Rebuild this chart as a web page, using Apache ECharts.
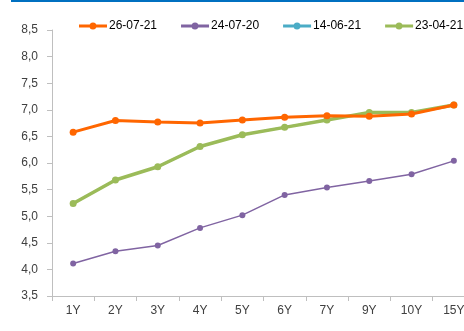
<!DOCTYPE html>
<html>
<head>
<meta charset="utf-8">
<script src="https://cdn.jsdelivr.net/npm/echarts@6/dist/echarts.min.js"></script>
<style>
  html, body { margin: 0; padding: 0; background: #ffffff; }
  #chart { width: 464px; height: 331px; }
</style>
</head>
<body>
<div id="chart"></div>
<script>
// Yield curve by maturity on four dates
const maturities = ['1Y', '2Y', '3Y', '4Y', '5Y', '6Y', '7Y', '9Y', '10Y', '15Y'];
const seriesNames = ['26-07-21', '24-07-20', '14-06-21', '23-04-21'];
const curve260721 = [6.58, 6.80, 6.77, 6.75, 6.81, 6.86, 6.89, 6.88, 6.92, 7.09];
const curve240720 = [4.11, 4.34, 4.45, 4.78, 5.02, 5.40, 5.54, 5.66, 5.79, 6.04];
const curve140621 = [5.24, 5.68, 5.93, 6.31, 6.53, 6.67, 6.81, 6.95, 6.95, 7.09];
const curve230421 = [5.24, 5.68, 5.93, 6.31, 6.53, 6.67, 6.81, 6.95, 6.95, 7.09];
const yMin = 3.5, yMax = 8.5, yStep = 0.5;

const colors = ['#FF6600', '#8064A2', '#4BACC6', '#9BBB59'];
const widths = [3, 1.5, 2, 3.5];
const dataSets = [curve260721, curve240720, curve140621, curve230421];
const drawOrder = [2, 3, 1, 0];

const chart = echarts.init(document.getElementById('chart'), null, { renderer: 'canvas' });

const series = drawOrder.map((i, k) => ({
  name: seriesNames[i],
  type: 'line',
  data: dataSets[i],
  symbol: 'circle',
  symbolSize: i === 1 ? 6 : (i === 2 ? 5 : 7),
  showSymbol: true,
  lineStyle: { color: colors[i], width: widths[i] },
  itemStyle: { color: colors[i] },
  z: 2 + k,
  animation: false
}));

chart.setOption({
  backgroundColor: '#ffffff',
  animation: false,
  textStyle: { fontFamily: 'Liberation Sans, Arial, sans-serif' },
  graphic: [{
    type: 'rect',
    shape: { x: 11, y: 0, width: 453, height: 2 },
    style: { fill: '#0070C0' },
    silent: true
  }],
  legend: {
    data: seriesNames.map(n => ({ name: n, icon: 'path://M0,4.5 L28,4.5 L28,7.5 L0,7.5 Z M14,2.5 A3.5,3.5 0 1 1 13.99,2.5 Z' })),
    top: 15,
    left: 74,
    width: 420,
    orient: 'horizontal',
    itemWidth: 28,
    itemHeight: 12,
    itemGap: 24,
    textStyle: { fontSize: 12, color: '#000000', padding: [0, 0, 0, -3] }
  },
  color: colors,
  grid: { left: 52, width: 423, top: 30, height: 266, containLabel: false, outerBoundsMode: 'none' },
  xAxis: {
    type: 'category',
    data: maturities,
    boundaryGap: true,
    axisLine: { lineStyle: { color: '#BFBFBF', width: 1 } },
    axisTick: { show: true, length: 5, lineStyle: { color: '#BFBFBF' } },
    axisLabel: { color: '#404040', fontSize: 12, margin: 9 },
    splitLine: { show: false }
  },
  yAxis: {
    type: 'value',
    min: yMin,
    max: yMax,
    interval: yStep,
    axisLine: { show: true, lineStyle: { color: '#BFBFBF', width: 1 } },
    axisTick: { show: true, length: 5, lineStyle: { color: '#BFBFBF' } },
    axisLabel: {
      color: '#404040',
      fontSize: 12,
      margin: 14,
      formatter: v => v.toFixed(1).replace('.', ',')
    },
    splitLine: { show: false }
  },
  series: series
});
</script>
</body>
</html>
